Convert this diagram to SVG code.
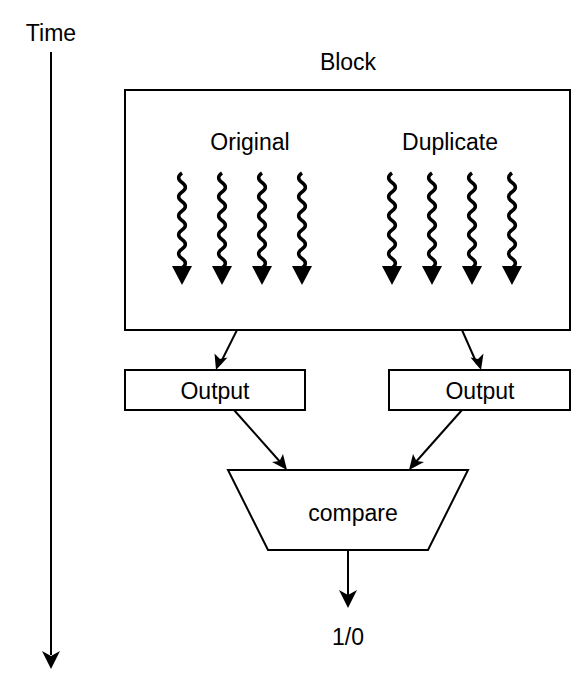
<svg xmlns="http://www.w3.org/2000/svg" width="572" height="688" viewBox="0 0 572 688">
<style>
text{font-family:"Liberation Sans",Arial,sans-serif;font-size:23px;fill:#000;text-anchor:middle;dominant-baseline:central}
.box{fill:#fff;stroke:#000;stroke-width:2}
.ln{fill:none;stroke:#000;stroke-width:2}
.wave{fill:none;stroke:#000;stroke-width:3.5}
</style>
<defs>
<path id="wv" d="M0,0 c-4.5,3 -4.5,6.5 0,9.5 c4.5,3 4.5,6.5 0,9.5 c-4.5,3 -4.5,6.5 0,9.5 c4.5,3 4.5,6.5 0,9.5 c-4.5,3 -4.5,6.5 0,9.5 c4.5,3 4.5,6.5 0,9.5 c-4.5,3 -4.5,6.5 0,9.5 c4.5,3 4.5,6.5 0,9.5 c-4.5,3 -4.5,6.5 0,9.5 c4.5,3 4.5,6.5 0,9.5 l0,3" class="wave"/>
<path id="wh" d="M-10,266 L10,266 L0,285 Z" fill="#000"/>
</defs>
<g id="time">
<text x="51" y="33">Time</text>
<line x1="51" y1="52" x2="51" y2="655" class="ln"/>
<path d="M42,651 L51,669 L60,651 L51,656 Z" fill="#000"/>
</g>
<g id="block">
<text x="348" y="62">Block</text>
<rect x="125" y="90" width="445" height="240" class="box"/>
<text x="250" y="142">Original</text>
<text x="450" y="142">Duplicate</text>
<g id="waves">
<use href="#wv" x="182" y="173"/><use href="#wh" x="182"/>
<use href="#wv" x="222" y="173"/><use href="#wh" x="222"/>
<use href="#wv" x="262" y="173"/><use href="#wh" x="262"/>
<use href="#wv" x="302" y="173"/><use href="#wh" x="302"/>
<use href="#wv" x="392" y="173"/><use href="#wh" x="392"/>
<use href="#wv" x="432" y="173"/><use href="#wh" x="432"/>
<use href="#wv" x="472" y="173"/><use href="#wh" x="472"/>
<use href="#wv" x="512" y="173"/><use href="#wh" x="512"/>
</g>
</g>
<g id="out1">
<rect x="125" y="370" width="180" height="40" class="box"/>
<text x="215" y="391">Output</text>
</g>
<g id="out2">
<rect x="389" y="370" width="181" height="40" class="box"/>
<text x="480" y="391">Output</text>
</g>
<g id="compare">
<path d="M228,470 L468,470 L428,550 L268,550 Z" class="box"/>
<text x="353" y="513">compare</text>
</g>
<g id="result">
<text x="348" y="637">1/0</text>
</g>
<g id="connectors">
<line x1="237" y1="330" x2="220" y2="364" class="ln"/>
<path d="M216,370 L214.5,353.5 L220,359 L227.5,357.5 Z" fill="#000"/>
<line x1="462" y1="330" x2="477" y2="364" class="ln"/>
<path d="M481,370 L470.5,357.5 L478,359 L483.5,353.5 Z" fill="#000"/>
<line x1="234" y1="410" x2="282" y2="464" class="ln"/>
<path d="M287,470 L272,462 L279.5,461 L283,454 Z" fill="#000"/>
<line x1="462" y1="410" x2="414" y2="464" class="ln"/>
<path d="M409,470 L413,454 L416.5,461 L424,462 Z" fill="#000"/>
<line x1="348" y1="550" x2="348" y2="596" class="ln"/>
<path d="M339,590 L348,608 L357,590 L348,595 Z" fill="#000"/>
</g>
</svg>
